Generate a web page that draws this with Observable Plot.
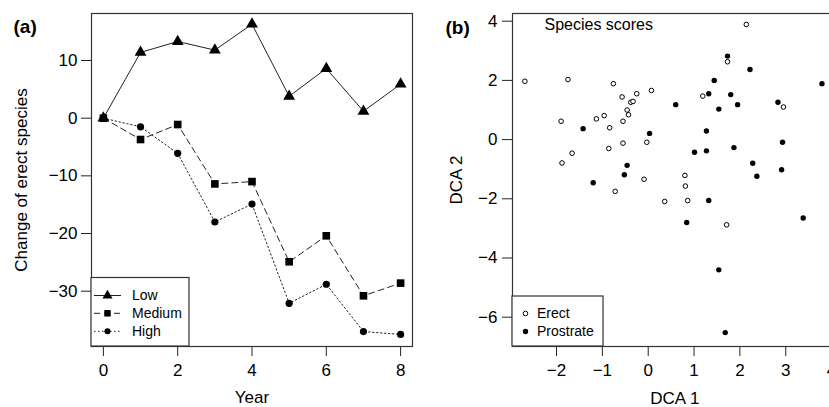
<!DOCTYPE html>
<html><head><meta charset="utf-8">
<script src="https://cdn.jsdelivr.net/npm/d3@7"></script>
<script src="https://cdn.jsdelivr.net/npm/@observablehq/plot@0.6"></script>
<style>
html,body{margin:0;padding:0;background:#fff;overflow:hidden;}
#wrap{position:relative;width:829px;height:407px;overflow:hidden;background:#fff;}
#wrap svg{position:absolute;top:0;max-width:none;}
</style></head><body><div id="wrap"></div>
<script>
// ---- Panel (a): change of erect species by year ----
const years = [0, 1, 2, 3, 4, 5, 6, 7, 8];
const lowChange = [0, 11.4, 13.3, 11.8, 16.3, 3.8, 8.6, 1.2, 5.9];
const mediumChange = [0, -3.7, -1.1, -11.4, -11.0, -24.9, -20.4, -30.8, -28.6];
const highChange = [0, -1.5, -6.1, -18.0, -14.9, -32.1, -28.8, -37.0, -37.5];
const yearTicks = [0, 2, 4, 6, 8];
const changeTicks = [-30, -20, -10, 0, 10];
const levelNames = ["Low", "Medium", "High"];

// ---- Panel (b): DCA species scores ----
const erectDCA1 = [-2.69, -1.75, -0.76, 0.07, -0.25, -0.57, -0.38, -0.33, -0.46, -0.43, -0.96, -1.13, -0.55, -1.90, -0.84, -0.03, -0.55, -0.86, -1.66, -1.88, -0.09, 2.14, 1.73, 1.19, 2.95, 0.80, -0.72, 0.36, 0.81, 0.86, 1.71];
const erectDCA2 = [1.97, 2.03, 1.89, 1.66, 1.55, 1.44, 1.26, 1.29, 1.00, 0.84, 0.81, 0.70, 0.62, 0.62, 0.40, -0.09, -0.12, -0.30, -0.46, -0.79, -1.34, 3.89, 2.63, 1.47, 1.10, -1.21, -1.75, -2.09, -1.57, -2.06, -2.88];
const prostrateDCA1 = [-1.42, 0.03, -0.46, -0.52, 1.73, 2.22, 1.44, 3.79, 1.32, 1.80, 0.60, 1.95, 2.83, 1.54, 1.27, 2.93, 1.87, 1.01, 1.27, 2.28, 2.91, 2.37, -1.20, 1.32, 0.84, 3.38, 1.54, 1.68];
const prostrateDCA2 = [0.37, 0.21, -0.87, -1.19, 2.82, 2.37, 2.00, 1.89, 1.55, 1.52, 1.18, 1.18, 1.26, 1.03, 0.29, -0.09, -0.27, -0.43, -0.38, -0.80, -1.02, -1.24, -1.46, -2.06, -2.80, -2.65, -4.40, -6.52];
const dca1Ticks = [-2, -1, 0, 1, 2, 3, 4];
const dca2Ticks = [-6, -4, -2, 0, 2, 4];
const growthForms = ["Erect", "Prostrate"];

const FONT = "'Liberation Sans', Arial, Helvetica, sans-serif";
const INK = "#222";
const styleBase = {fontFamily: FONT, fontSize: "17px", color: "#000", background: "#fff", overflow: "visible"};

const seriesA = [
  {name: levelNames[0], values: lowChange, symbol: "triangle", r: 4.4, dash: null},
  {name: levelNames[1], values: mediumChange, symbol: "square", r: 4.3, dash: "6,4"},
  {name: levelNames[2], values: highChange, symbol: "circle", r: 3.6, dash: "1.5,2.5"}
];

const marksA = [
  Plot.axisX({ticks: yearTicks, tickSize: 10, tickPadding: 7, label: null, fontSize: 17, stroke: INK}),
  Plot.axisY({ticks: changeTicks, tickSize: 10, tickPadding: 4, label: null, fontSize: 17, stroke: INK}),
];
for (const s of seriesA) {
  marksA.push(Plot.line(years, {x: d => d, y: (d, i) => s.values[i], stroke: INK, strokeWidth: 1, strokeDasharray: s.dash}));
}
for (const s of seriesA) {
  marksA.push(Plot.dot(years, {x: d => d, y: (d, i) => s.values[i], symbol: s.symbol, r: s.r, fill: "#000", stroke: "none"}));
}
marksA.push(
  Plot.frame({stroke: "#333", strokeWidth: 1.2}),
  Plot.text(["Year"], {text: d => d, frameAnchor: "bottom", dy: 51, fontSize: 17, lineAnchor: "middle"}),
  Plot.text(["Change of erect species"], {text: d => d, frameAnchor: "left", dx: -70, rotate: -90, fontSize: 17, textAnchor: "middle", lineAnchor: "middle"}),
  Plot.text(["(a)"], {text: d => d, frameAnchor: "top-left", dx: -78, dy: 13, textAnchor: "start", lineAnchor: "middle", fontSize: 19, fontWeight: "bold"})
);

const plotA = Plot.plot({
  width: 420, height: 407,
  marginLeft: 91, marginRight: 8, marginTop: 13, marginBottom: 61,
  style: styleBase,
  x: {domain: [-0.32, 8.32]},
  y: {domain: [-39.59, 18.15]},
  marks: marksA
});
plotA.style.left = "0px";

const plotB = Plot.plot({
  width: 429, height: 407,
  marginLeft: 92, marginRight: 12.4, marginTop: 13, marginBottom: 61,
  style: styleBase,
  x: {domain: [-2.96, 4.12]},
  y: {domain: [-6.99, 4.26]},
  marks: [
    Plot.axisX({ticks: dca1Ticks, tickSize: 10, tickPadding: 7, label: null, fontSize: 17, stroke: INK}),
    Plot.axisY({ticks: dca2Ticks, tickSize: 10, tickPadding: 5, label: null, fontSize: 17, stroke: INK}),
    Plot.dot(erectDCA1, {x: d => d, y: (d, i) => erectDCA2[i], r: 2.3, fill: "#fff", stroke: "#000", strokeWidth: 1}),
    Plot.dot(prostrateDCA1, {x: d => d, y: (d, i) => prostrateDCA2[i], r: 2.7, fill: "#000", stroke: "none"}),
    Plot.frame({stroke: "#333", strokeWidth: 1.2}),
    Plot.text(["DCA 1"], {text: d => d, frameAnchor: "bottom", dy: 52, fontSize: 17, lineAnchor: "middle"}),
    Plot.text(["DCA 2"], {text: d => d, frameAnchor: "left", dx: -56, rotate: -90, fontSize: 17, textAnchor: "middle", lineAnchor: "middle"}),
    Plot.text(["Species scores"], {text: d => d, frameAnchor: "top-left", dx: 32, dy: 11, textAnchor: "start", lineAnchor: "middle", fontSize: 16}),
    Plot.text(["(b)"], {text: d => d, frameAnchor: "top-left", dx: -67, dy: 14.5, textAnchor: "start", lineAnchor: "middle", fontSize: 19, fontWeight: "bold"})
  ]
});
plotB.style.left = "420px";

const wrap = document.getElementById("wrap");
wrap.appendChild(plotA);
wrap.appendChild(plotB);

// ---- legends (drawn in SVG space of each panel) ----
function symbolPath(name, r) {
  const t = {triangle: d3.symbolTriangle, square: d3.symbolSquare, circle: d3.symbolCircle}[name];
  return d3.symbol(t, r * r * Math.PI)();
}
{
  const g = d3.select(plotA).append("g").attr("font-family", FONT).attr("font-size", 14).attr("text-anchor", "start");
  g.append("rect").attr("x", 91).attr("y", 277.5).attr("width", 98).attr("height", 68.5)
    .attr("fill", "#fff").attr("stroke", "#333").attr("stroke-width", 1.2);
  const rowsY = [295.5, 313.3, 331.3];
  seriesA.forEach((s, k) => {
    const y = rowsY[k];
    g.append("line").attr("x1", 94).attr("x2", 121).attr("y1", y).attr("y2", y)
      .attr("stroke", INK).attr("stroke-dasharray", s.dash);
    g.append("path").attr("d", symbolPath(s.symbol, s.r * 0.85)).attr("transform", `translate(107.5,${y})`).attr("fill", "#000");
    g.append("text").attr("x", 132).attr("y", y).attr("dy", "0.35em").text(s.name);
  });
}
{
  const g = d3.select(plotB).append("g").attr("font-family", FONT).attr("font-size", 14).attr("text-anchor", "start");
  g.append("rect").attr("x", 92).attr("y", 296).attr("width", 91).attr("height", 50)
    .attr("fill", "#fff").attr("stroke", "#333").attr("stroke-width", 1.2);
  const rowsY = [313.5, 331.5];
  g.append("circle").attr("cx", 105.5).attr("cy", rowsY[0]).attr("r", 2.3).attr("fill", "#fff").attr("stroke", "#000");
  g.append("circle").attr("cx", 105.5).attr("cy", rowsY[1]).attr("r", 2.7).attr("fill", "#000");
  growthForms.forEach((n, k) => {
    g.append("text").attr("x", 117).attr("y", rowsY[k]).attr("dy", "0.35em").text(n);
  });
}
</script></body></html>
